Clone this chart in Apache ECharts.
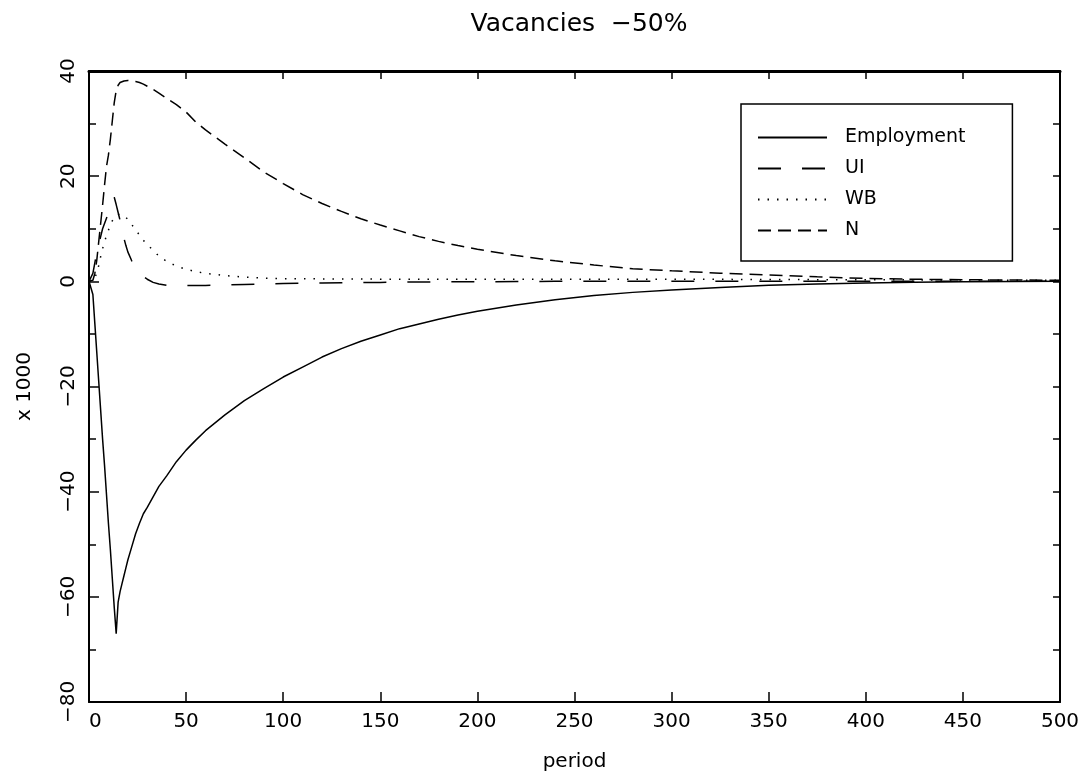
<!DOCTYPE html>
<html>
<head>
<meta charset="utf-8">
<title>Vacancies −50%</title>
<script src="https://cdn.jsdelivr.net/npm/echarts@6/dist/echarts.min.js"></script>
<style>
  html, body { margin: 0; padding: 0; background: #fff; }
  #chart { width: 1087px; height: 782px; }
</style>
</head>
<body>
<div id="chart"></div>
<script>
// Response of labour-market stocks (thousands) to a 50% fall in vacancies
const periods = [
  0, 1, 2, 3, 4, 5, 6, 7, 8, 9, 10, 11, 12, 13, 14, 15, 16, 17, 18, 19, 20,
  22, 24, 26, 28, 30, 33, 36, 40, 45, 50, 55, 60,
  70, 80, 90, 100, 110, 120, 130, 140, 150, 160, 170, 180, 190, 200,
  220, 240, 260, 280, 300, 325, 350, 375, 400, 425, 450, 475, 500
];

const employment = [
  0, 0, -2.5, -8, -13.5, -19, -24.5, -30, -35, -40.5, -46, -51, -56.5, -62, -67, -61, -59, -57.5, -56, -54.5, -53,
  -50.5, -48, -46, -44.2, -43, -41, -39, -37, -34.3, -32.1, -30.2, -28.4,
  -25.4, -22.7, -20.4, -18.2, -16.3, -14.4, -12.8, -11.4, -10.2, -9.0, -8.1, -7.2, -6.4, -5.7,
  -4.5, -3.5, -2.7, -2.1, -1.65, -1.15, -0.75, -0.5, -0.3, -0.18, -0.1, -0.05, 0
];

const ui = [
  0, 0, 1.5, 3.5, 5.5, 7, 8.5, 10, 11, 12, 13, 14, 15, 16, 14.6, 13.1, 11.6, 9.8, 8.2, 6.8, 5.6,
  3.9, 2.6, 1.6, 0.9, 0.4, -0.2, -0.5, -0.75, -0.8, -0.8, -0.8, -0.78,
  -0.7, -0.6, -0.5, -0.4, -0.35, -0.3, -0.25, -0.2, -0.2, -0.15, -0.15, -0.1, -0.1, -0.1,
  -0.05, 0, 0, 0, 0, 0, 0, 0, 0, 0, 0, 0, 0
];

const wb = [
  0, 0, 0.1, 0.3, 1.5, 3, 4.7, 6.2, 7.5, 8.7, 9.7, 10.7, 11.5, 12.2, 12.6, 12.8, 12.8, 12.7, 12.5, 12.2, 11.8,
  10.8, 9.8, 8.8, 7.8, 7.0, 5.9, 4.8, 3.8, 2.9, 2.3, 1.85, 1.5,
  1.1, 0.8, 0.6, 0.5, 0.5, 0.45, 0.45, 0.45, 0.4, 0.4, 0.4, 0.4, 0.4, 0.4,
  0.4, 0.4, 0.4, 0.4, 0.4, 0.38, 0.35, 0.32, 0.3, 0.28, 0.25, 0.22, 0.2
];

const n = [
  0, 0, 0.2, 1.5, 4, 7.5, 11, 14.5, 18.3, 21.8, 24, 27, 30.5, 34, 36.3, 37.3, 37.8, 38.0, 38.1, 38.2, 38.2,
  38.1, 38.0, 37.8, 37.5, 37.1, 36.5, 35.8, 34.8, 33.6, 32.2, 30.3, 28.8,
  26.1, 23.5, 20.8, 18.6, 16.5, 14.8, 13.3, 11.9, 10.7, 9.6, 8.5, 7.6, 6.8, 6.1,
  4.9, 3.9, 3.1, 2.4, 2.0, 1.55, 1.2, 0.85, 0.55, 0.4, 0.3, 0.25, 0.2
];

const seriesNames = ['Employment', 'UI', 'WB', 'N'];
const titleText = 'Vacancies  \u221250%';
const xName = 'period';
const yName = 'x 1000';

const FONT = 'DejaVu Sans';
const pairs = vals => periods.map((p, i) => [p, vals[i]]);
const minus = v => String(v).replace('-', '\u2212');

const lineStyles = [
  { type: 'solid' },
  { type: [23, 21] },
  { type: [1.5, 8] },
  { type: [13, 7] }
];

const chart = echarts.init(document.getElementById('chart'), null, { renderer: 'canvas' });

const frameLine = w => ({ show: true, onZero: false, lineStyle: { color: '#000', width: w } });
const clear = 'rgba(0,0,0,0)';

chart.setOption({
  animation: false,
  backgroundColor: '#fff',
  title: {
    text: titleText,
    left: 574,
    textAlign: 'center',
    top: 7,
    textStyle: { fontFamily: FONT, fontSize: 25, fontWeight: 'normal', color: '#000' }
  },
  grid: { left: 89, right: 27, top: 71, bottom: 80 },
  legend: {
    orient: 'vertical',
    left: 741,
    top: 104,
    padding: [24, 47, 21, 16],
    itemWidth: 69,
    itemHeight: 14,
    itemGap: 12,
    borderColor: '#000',
    borderWidth: 1.5,
    backgroundColor: '#fff',
    itemStyle: { color: clear, borderColor: clear, borderWidth: 0 },
    textStyle: { fontFamily: FONT, fontSize: 19, color: '#000', padding: [0, 0, 0, 13] },
    data: seriesNames
  },
  xAxis: [
    {
      type: 'value', position: 'bottom', min: 0, max: 500, interval: 50,
      name: xName, nameLocation: 'middle', nameGap: 50,
      nameTextStyle: { fontFamily: FONT, fontSize: 20, color: '#000' },
      axisLine: frameLine(2),
      axisTick: { show: true, inside: true, length: 10, lineStyle: { color: '#000', width: 1.5 } },
      axisLabel: { fontFamily: FONT, fontSize: 20, color: '#000', margin: 10, alignMinLabel: 'left' },
      splitLine: { show: false }
    },
    {
      type: 'value', position: 'top', min: 0, max: 500, interval: 50,
      axisLine: frameLine(3),
      axisTick: { show: true, inside: true, length: 8, lineStyle: { color: '#000', width: 1.5 } },
      axisLabel: { show: false },
      splitLine: { show: false }
    }
  ],
  yAxis: [
    {
      type: 'value', position: 'left', min: -80, max: 40, interval: 20,
      name: yName, nameLocation: 'middle', nameGap: 54,
      nameTextStyle: { fontFamily: FONT, fontSize: 20, color: '#000' },
      axisLine: frameLine(2),
      axisTick: { show: true, inside: true, length: 10, lineStyle: { color: '#000', width: 1.5 } },
      minorTick: { show: true, splitNumber: 2, length: 7, lineStyle: { color: '#000', width: 1.5 } },
      axisLabel: { fontFamily: FONT, fontSize: 20, color: '#000', rotate: 90, margin: 10, formatter: minus },
      splitLine: { show: false }
    },
    {
      type: 'value', position: 'right', min: -80, max: 40, interval: 20,
      axisLine: frameLine(2),
      axisTick: { show: true, inside: true, length: 7, lineStyle: { color: '#000', width: 1.5 } },
      minorTick: { show: true, splitNumber: 2, length: 7, lineStyle: { color: '#000', width: 1.5 } },
      axisLabel: { show: false },
      splitLine: { show: false }
    }
  ],
  series: [employment, ui, wb, n].map((vals, i) => ({
    name: seriesNames[i],
    type: 'line',
    xAxisIndex: 0,
    yAxisIndex: 0,
    data: pairs(vals),
    symbol: 'none',
    smooth: false,
    color: '#000',
    lineStyle: Object.assign({ color: '#000', width: 1.5 }, lineStyles[i])
  }))
});
</script>
</body>
</html>
